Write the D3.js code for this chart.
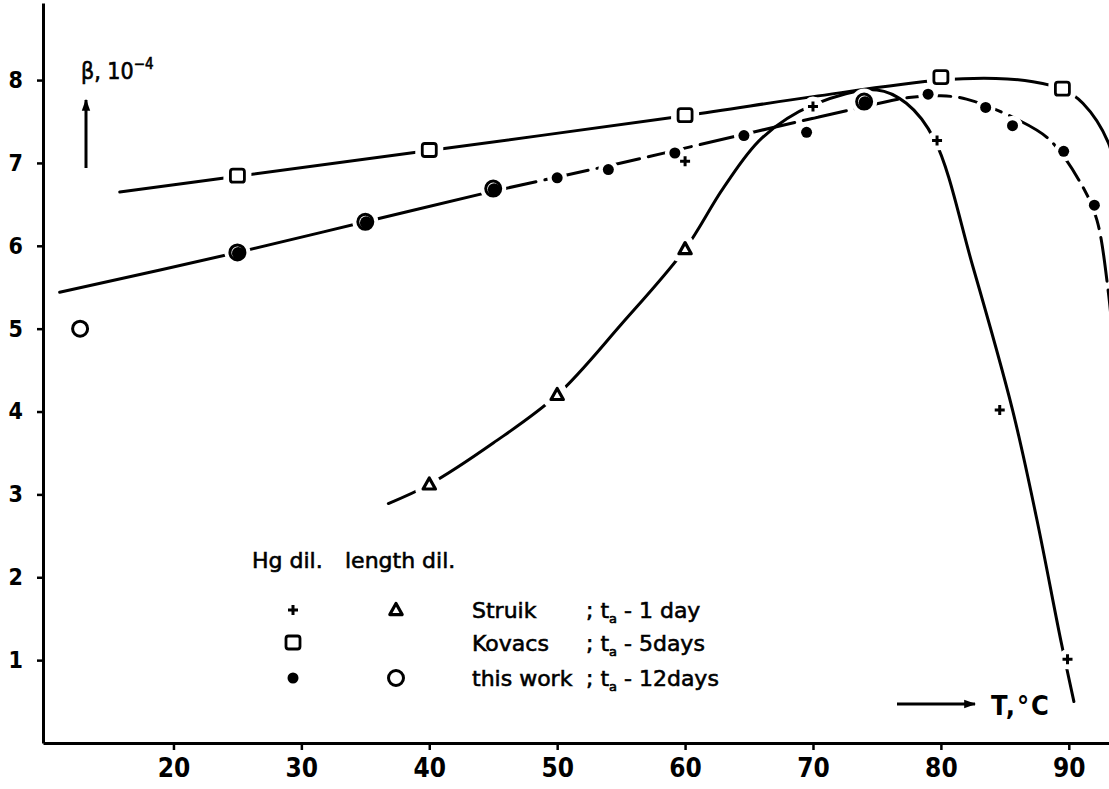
<!DOCTYPE html>
<html>
<head>
<meta charset="utf-8">
<script src="https://cdn.jsdelivr.net/npm/d3@7"></script>
<style>
  html, body { margin: 0; padding: 0; background: #fff; }
  svg { display: block; }
</style>
</head>
<body>
<svg id="chart" width="1109" height="789"></svg>
<script>
// ---- axis ticks ----
const xTicks = [20, 30, 40, 50, 60, 70, 80, 90];
const yTicks = [1, 2, 3, 4, 5, 6, 7, 8];

// ---- measured points: [T (°C), beta] ----
// Struik, Hg dilatometry (+)
const struikHg = [[60, 7.02], [70, 7.68], [79.7, 7.27], [84.6, 4.02], [89.9, 1.01]];
// Struik, length dilatometry (triangles)
const struikLen = [[40, 3.12], [50, 4.2], [60, 5.96]];
// Kovacs, Hg dilatometry (squares)
const kovacsHg = [[25, 6.84], [40, 7.15], [60, 7.57], [80, 8.03], [89.5, 7.89]];
// this work, Hg dilatometry (filled dots)
const thisHg = [[25, 5.92], [35, 6.29], [45, 6.69], [50, 6.82], [54, 6.92], [59.2, 7.12],
                [64.6, 7.33], [69.5, 7.37], [74, 7.74], [79, 7.83], [83.5, 7.67],
                [85.6, 7.45], [89.6, 7.14], [92, 6.49]];
// this work, length dilatometry (open circles)
const thisLen = [[12.7, 5.0], [25, 5.92], [35, 6.29], [45, 6.69], [74, 7.74]];

// ---- hand-drawn trend curves through the data ----
const kovacsCurve = [[15.8, 6.65], [25, 6.84], [40, 7.15], [60, 7.57], [70, 7.8], [80, 8.0],
                     [84.3, 8.02], [87.2, 7.98], [89.5, 7.89], [91.1, 7.72], [93.1, 7.24], [94, 6.6]];
const thisCurve = [[11.1, 5.44], [25, 5.92], [35, 6.29], [45, 6.66], [55, 7.0], [65, 7.36],
                   [72.9, 7.64], [77.5, 7.79], [80, 7.81], [82, 7.77], [85.9, 7.53], [88.5, 7.28],
                   [91.1, 6.71], [92.2, 6.31], [93.1, 5.43], [93.6, 4.6]];
const struikCurve = [[36.8, 2.89], [40, 3.12], [45, 3.62], [50, 4.2], [55, 5.05], [60, 5.96],
                     [63, 6.7], [66, 7.3], [70, 7.7], [75, 7.88], [77.3, 7.72], [79.5, 7.28],
                     [82.5, 5.75], [85.6, 4.02], [87.5, 2.7], [89.4, 1.22], [90.4, 0.5]];

// ---- legend ----
const legendHeads = ["Hg dil.", "length dil."];
const legendNames = ["Struik", "Kovacs", "this work"];
const legendTimes = ["1 day", "5days", "12days"];

const FONT = '"DejaVu Sans Condensed", "DejaVu Sans", sans-serif';
const svg = d3.select("#chart");

const x = d3.scaleLinear().domain([9.8, 93.3]).range([43, 1111]);
const y = d3.scaleLinear().domain([0, 8.93]).range([743, 3]);

// ---- axes ----
const gx = svg.append("g")
  .attr("transform", `translate(0,${y(0)})`)
  .call(d3.axisBottom(x).tickValues(xTicks).tickSize(6).tickSizeOuter(0).tickPadding(10));
const gy = svg.append("g")
  .attr("transform", `translate(${x(9.8)},0)`)
  .call(d3.axisLeft(y).tickValues(yTicks).tickSize(6).tickSizeOuter(0).tickPadding(14));

[gx, gy].forEach(g => {
  g.select(".domain").attr("stroke", "#000").attr("stroke-width", 3).attr("stroke-linejoin", "round");
  g.selectAll(".tick line").attr("stroke", "#000").attr("stroke-width", 2.5);
  g.selectAll(".tick text").attr("fill", "#000")
    .style("font-family", FONT).style("font-weight", "bold");
});
gx.selectAll(".tick text").style("font-size", "26px");
gy.selectAll(".tick text").style("font-size", "23px");
gx.selectAll(".tick line").attr("transform", "translate(0,1)");

// ---- curves ----
const line = d3.line()
  .x(d => x(d[0])).y(d => y(d[1]))
  .curve(d3.curveCatmullRom.alpha(0.5));

const curves = svg.append("g")
  .attr("fill", "none").attr("stroke", "#000")
  .attr("stroke-width", 3).attr("stroke-linecap", "round");

curves.append("path").attr("d", line(kovacsCurve));
curves.append("path").attr("d", line(struikCurve));
curves.append("path").attr("d", line(thisCurve.filter(d => d[0] <= 45)));
curves.append("path").attr("d", line(thisCurve.filter(d => d[0] >= 45)))
  .attr("stroke-dasharray", "44,9");

// ---- marker shapes ----
function drawPlus(g, cx, cy, halo) {
  if (halo) { g.append("circle").attr("cx", cx).attr("cy", cy).attr("r", 10).attr("fill", "#fff"); return; }
  g.append("path").attr("d", `M${cx - 5},${cy}H${cx + 5}M${cx},${cy - 5}V${cy + 5}`)
    .attr("stroke", "#000").attr("stroke-width", 3).attr("fill", "none");
}
function drawTri(g, cx, cy, halo) {
  const s = 6.5;
  const d = `M${cx},${cy - s}L${cx + s * 0.95},${cy + s * 0.7}L${cx - s * 0.95},${cy + s * 0.7}Z`;
  g.append("path").attr("d", d)
    .attr("fill", "#fff")
    .attr("stroke", halo ? "#fff" : "#000")
    .attr("stroke-width", halo ? 16 : 3.2)
    .attr("stroke-linejoin", "round");
}
function drawSquare(g, cx, cy, halo) {
  g.append("rect").attr("x", cx - 7).attr("y", cy - 7).attr("width", 14).attr("height", 13)
    .attr("rx", 2.5)
    .attr("fill", "#fff")
    .attr("stroke", halo ? "#fff" : "#000")
    .attr("stroke-width", halo ? 14 : 2.8);
}
function drawDot(g, cx, cy, halo) {
  g.append("circle").attr("cx", cx).attr("cy", cy).attr("r", halo ? 10 : 5.5)
    .attr("fill", halo ? "#fff" : "#000");
}
function drawRing(g, cx, cy, halo) {
  g.append("circle").attr("cx", cx).attr("cy", cy).attr("r", halo ? 13 : 7.5)
    .attr("fill", "#fff").attr("stroke", halo ? "none" : "#000").attr("stroke-width", 3);
}

const series = [
  { data: kovacsHg, draw: drawSquare },
  { data: struikLen, draw: drawTri },
  { data: struikHg, draw: drawPlus },
  { data: thisLen, draw: drawRing },
  { data: thisHg, draw: drawDot }
];

// white gaps where the curves meet the markers
const halos = svg.append("g");
series.forEach(s => s.data.forEach(d => s.draw(halos, x(d[0]), y(d[1]), true)));
// the markers themselves
const marks = svg.append("g");
series.forEach(s => s.data.forEach(d => {
  // dots sitting inside open circles are nudged to leave a small glint
  const inRing = s.draw === drawDot && thisLen.some(c => c[0] === d[0] && c[1] === d[1]);
  if (inRing) {
    marks.append("circle").attr("cx", x(d[0]) + 0.9).attr("cy", y(d[1]) + 0.9).attr("r", 6.3).attr("fill", "#000");
  } else {
    s.draw(marks, x(d[0]), y(d[1]), false);
  }
}));

// ---- axis titles ----
const defs = svg.append("defs");
defs.append("marker").attr("id", "head").attr("viewBox", "0 0 10 10")
  .attr("refX", 9).attr("refY", 5).attr("markerWidth", 4).attr("markerHeight", 4)
  .attr("orient", "auto-start-reverse")
  .append("path").attr("d", "M0,1.5L10,5L0,8.5Z").attr("fill", "#000");

svg.append("line").attr("x1", 86).attr("y1", 168).attr("x2", 86).attr("y2", 100)
  .attr("stroke", "#000").attr("stroke-width", 3).attr("marker-end", "url(#head)");
const yTitle = svg.append("text").attr("x", 81).attr("y", 79)
  .style("font-family", FONT).style("font-size", "23px").attr("fill", "#000")
  .attr("stroke", "#000").attr("stroke-width", 0.6);
yTitle.append("tspan").text("β, 10");
yTitle.append("tspan").attr("dy", -10).style("font-size", "15px").text("−4");

svg.append("line").attr("x1", 897).attr("y1", 704).attr("x2", 975).attr("y2", 704)
  .attr("stroke", "#000").attr("stroke-width", 3).attr("marker-end", "url(#head)");
svg.append("text").attr("x", 991).attr("y", 715)
  .style("font-family", FONT).style("font-size", "27px").style("font-weight", "bold")
  .style("letter-spacing", "2px")
  .attr("fill", "#000").text("T,°C");

// ---- legend ----
const lg = svg.append("g")
  .style("font-family", '"DejaVu Sans", sans-serif').style("font-size", "22px")
  .attr("fill", "#000").attr("stroke", "#000").attr("stroke-width", 0.6);
lg.append("text").attr("x", 252).attr("y", 568).text(legendHeads[0]);
lg.append("text").attr("x", 345).attr("y", 568).text(legendHeads[1]);

const rowY = [610, 643, 678];
const col1 = 293, col2 = 396, colName = 472, colTime = 586;
const rowMarks = [[drawPlus, drawTri], [drawSquare, null], [drawDot, drawRing]];
const lm = svg.append("g");
legendNames.forEach((name, i) => {
  const [m1, m2] = rowMarks[i];
  m1(lm, col1, rowY[i], false);
  if (m2) m2(lm, col2, rowY[i], false);
  lg.append("text").attr("x", colName).attr("y", rowY[i] + 8).text(name);
  const t = lg.append("text").attr("x", colTime).attr("y", rowY[i] + 8);
  t.append("tspan").text("; t");
  t.append("tspan").attr("dy", 5).style("font-size", "13px").text("a");
  t.append("tspan").attr("dy", -5).text(" - " + legendTimes[i]);
});
</script>
</body>
</html>
